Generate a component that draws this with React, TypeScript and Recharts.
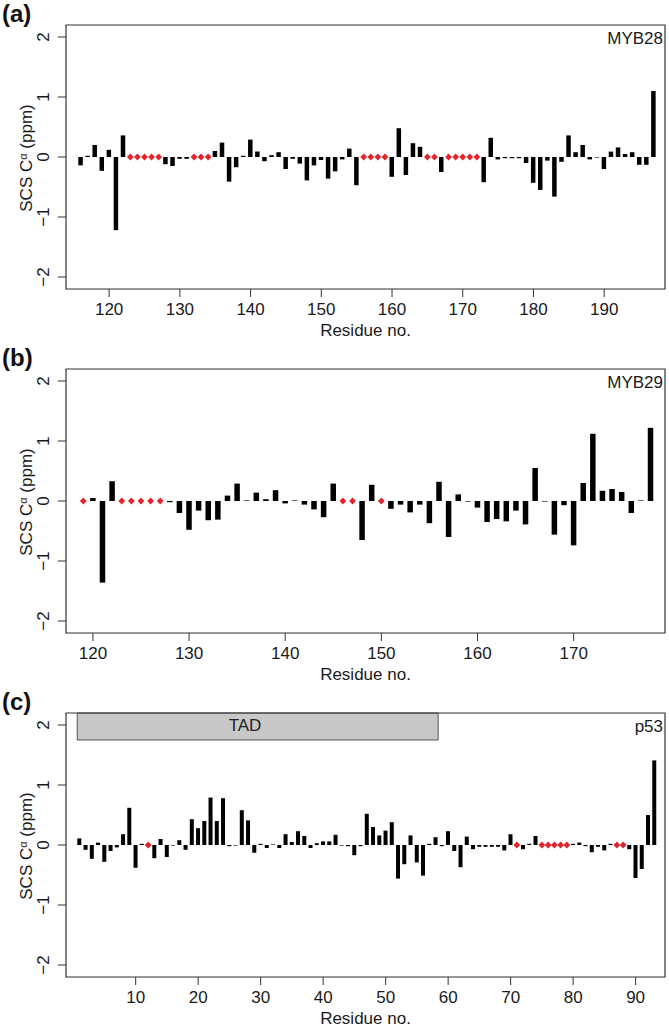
import React from 'react';
import { ComposedChart, Bar, Scatter, XAxis, YAxis, ReferenceArea } from 'recharts';

// SCS C-alpha per residue; null = unassigned (red diamond on zero line)
const startA = 116;
const valuesA = [
  -0.14, 0.02, 0.2, -0.23, 0.12, -1.22, 0.36,
  null, null, null, null, null,
  -0.12, -0.15, -0.03, -0.03,
  null, null, null,
  0.1, 0.24, -0.41, -0.17, 0.02, 0.29, 0.09, -0.07, 0.03, 0.08, -0.2, -0.03, -0.11, -0.39, -0.14, -0.05, -0.36, -0.24, -0.04, 0.14, -0.47,
  null, null, null, null,
  -0.33, 0.48, -0.3, 0.23, 0.17,
  null, null,
  -0.25,
  null, null, null, null, null,
  -0.42, 0.32, -0.04, -0.02, -0.02, -0.02, -0.1, -0.43, -0.55, -0.06, -0.66, -0.08, 0.36, 0.08, 0.2, -0.04, -0.01, -0.2, 0.09, 0.16, 0.05, 0.08, -0.13, -0.13, 1.1,
];

const startB = 119;
const valuesB = [
  null,
  0.05, -1.36, 0.33,
  null, null, null, null, null,
  -0.02, -0.2, -0.48, -0.16, -0.32, -0.31, 0.09, 0.29, 0.01, 0.14, 0.03, 0.18, -0.04, 0.01, -0.06, -0.14, -0.27, 0.29,
  null, null,
  -0.65, 0.27,
  null,
  -0.13, -0.06, -0.19, -0.06, -0.37, 0.32, -0.6, 0.11, -0.01, -0.11, -0.35, -0.3, -0.34, -0.16, -0.39, 0.55, -0.01, -0.56, -0.07, -0.74, 0.3, 1.12, 0.17, 0.2, 0.15, -0.2, 0.01, 1.22,
];

const startC = 1;
const valuesC = [
  0.11, -0.08, -0.23, 0.04, -0.28, -0.1, -0.04, 0.18, 0.62, -0.38, 0.02,
  null,
  -0.22, 0.1, -0.2, -0.01, 0.08, -0.08, 0.43, 0.28, 0.4, 0.79, 0.4, 0.78, -0.02, -0.01, 0.58, 0.41, -0.13, 0.02,
  -0.05, 0.01, -0.05, 0.18, 0.05, 0.23, 0.15, -0.05, 0.03, 0.06, 0.06, 0.17, -0.01, -0.02, -0.17, -0.02, 0.52, 0.3, 0.16, 0.24,
  0.38, -0.56, -0.32, 0.16, -0.29, -0.51, 0.02, 0.13, -0.02, 0.23, -0.1, -0.37, 0.14, -0.07, -0.03, -0.03, -0.03, -0.03, -0.09, 0.18,
  null,
  -0.07, 0.02, 0.15,
  null, null, null, null, null,
  0.02, 0.04, -0.02, -0.12, -0.03, -0.09, 0.02,
  null, null,
  -0.07, -0.55, -0.4, 0.5, 1.41,
];

const ticksA = [120, 130, 140, 150, 160, 170, 180, 190];
const ticksB = [120, 130, 140, 150, 160, 170];
const ticksC = [10, 20, 30, 40, 50, 60, 70, 80, 90];
const yTicks = [-2, -1, 0, 1, 2];
const tadRange = [1, 58];

const FONT = '"Liberation Sans", Arial, Helvetica, sans-serif';
const AXIS = '#333';
const TEXT = '#1a1a1a';
const RED = '#e3242b';

const W = 669;
const H = 344;
const PLOT_TOP = 25;
const PLOT_H = 264;

const toRows = (start: number, vals: (number | null)[]) =>
  vals.map((v, i) => ({ res: start + i, v }));
const toMissing = (rows: { res: number; v: number | null }[]) =>
  rows.filter((r) => r.v === null).map((r) => ({ res: r.res, m: 0 }));

const XTick = (p: any) => (
  <text x={p.x} y={p.y} dy={18} textAnchor="middle" fontSize={17} fill={TEXT} fontFamily={FONT}>
    {p.payload.value}
  </text>
);

const YTick = (p: any) => {
  const v = p.payload.value;
  const lbl = v < 0 ? '\u2212' + Math.abs(v) : String(v);
  const x = p.x - 9;
  return (
    <text x={x} y={p.y} transform={`rotate(-90, ${x}, ${p.y})`} textAnchor="middle" fontSize={17} fill={TEXT} fontFamily={FONT}>
      {lbl}
    </text>
  );
};

const Diamond = (p: any) => {
  const { cx, cy } = p;
  const s = 3.4;
  return <polygon points={`${cx},${cy - s} ${cx + s},${cy} ${cx},${cy + s} ${cx - s},${cy}`} fill={RED} />;
};

type PanelProps = {
  top: number;
  letter: string;
  name: string;
  start: number;
  values: (number | null)[];
  domain: [number, number];
  ticks: number[];
  barSize: number;
  tad?: number[];
};

const Panel = ({ top, letter, name, start, values, domain, ticks, barSize, tad }: PanelProps) => {
  const rows = toRows(start, values);
  const missing = toMissing(rows);
  return (
    <div style={{ position: 'absolute', left: 0, top, width: W, height: H }}>
      <ComposedChart width={W} height={H} data={rows} margin={{ top: PLOT_TOP, right: 4, bottom: 0, left: 0 }}>
        <XAxis
          dataKey="res"
          type="number"
          domain={domain}
          allowDataOverflow
          ticks={ticks}
          axisLine={false}
          tickLine={{ stroke: AXIS }}
          tickSize={8}
          tickMargin={0}
          height={H - PLOT_TOP - PLOT_H}
          tick={<XTick />}
          stroke={AXIS}
        />
        <YAxis
          type="number"
          domain={[-2.2, 2.2]}
          allowDataOverflow
          ticks={yTicks}
          axisLine={false}
          tickLine={{ stroke: AXIS }}
          tickSize={8}
          tickMargin={0}
          width={66}
          tick={<YTick />}
          stroke={AXIS}
        />
        {tad && (
          <ReferenceArea
            x1={tad[0] - 0.35}
            x2={tad[1] + 0.4}
            y1={1.75}
            y2={2.2}
            fill="#c8c8c8"
            fillOpacity={1}
            stroke="#555"
            strokeWidth={1}
          />
        )}
        <Bar dataKey="v" fill="#000" barSize={barSize} isAnimationActive={false} />
        <Scatter data={missing} dataKey="m" shape={<Diamond />} isAnimationActive={false} />
        <ReferenceArea
          x1={domain[0]}
          x2={domain[1]}
          y1={-2.2}
          y2={2.2}
          fill="none"
          stroke={AXIS}
          strokeWidth={1.2}
        />
      </ComposedChart>
      <div style={{ position: 'absolute', left: 2, top: 2, fontSize: 24, lineHeight: '24px', fontWeight: 'bold', color: '#111', fontFamily: FONT }}>
        {letter}
      </div>
      <div
        style={{
          position: 'absolute',
          left: 27 - 90,
          top: PLOT_TOP + 133 - 9,
          width: 180,
          height: 18,
          lineHeight: '18px',
          fontSize: 17,
          textAlign: 'center',
          transform: 'rotate(-90deg)',
          color: TEXT,
          fontFamily: FONT,
          whiteSpace: 'nowrap',
        }}
      >
        SCS C<sup style={{ fontSize: 11, verticalAlign: 'top', lineHeight: '10px' }}>α</sup> (ppm)
      </div>
      <div style={{ position: 'absolute', left: 563, width: 100, top: PLOT_TOP + 5, fontSize: 17, lineHeight: '17px', textAlign: 'right', color: TEXT, fontFamily: FONT }}>
        {name}
      </div>
      {tad && (
        <div style={{ position: 'absolute', left: 245 - 40, width: 80, top: PLOT_TOP + 4, fontSize: 17, lineHeight: '17px', textAlign: 'center', color: '#222', fontFamily: FONT }}>
          TAD
        </div>
      )}
      <div style={{ position: 'absolute', left: 66, width: 599, top: PLOT_TOP + PLOT_H + 33, fontSize: 17, lineHeight: '17px', textAlign: 'center', color: TEXT, fontFamily: FONT }}>
        Residue no.
      </div>
    </div>
  );
};

export default function App() {
  return (
    <div style={{ position: 'absolute', left: 0, top: 0, width: W, height: 1031, background: '#fff', fontFamily: FONT }}>
      <Panel top={0} letter="(a)" name="MYB28" start={startA} values={valuesA} domain={[113.9, 198.6]} ticks={ticksA} barSize={4.5} />
      <Panel top={344} letter="(b)" name="MYB29" start={startB} values={valuesB} domain={[117.2, 179.5]} ticks={ticksB} barSize={5.5} />
      <Panel top={688} letter="(c)" name="p53" start={startC} values={valuesC} domain={[-1.15, 94.7]} ticks={ticksC} barSize={4} tad={tadRange} />
    </div>
  );
}
